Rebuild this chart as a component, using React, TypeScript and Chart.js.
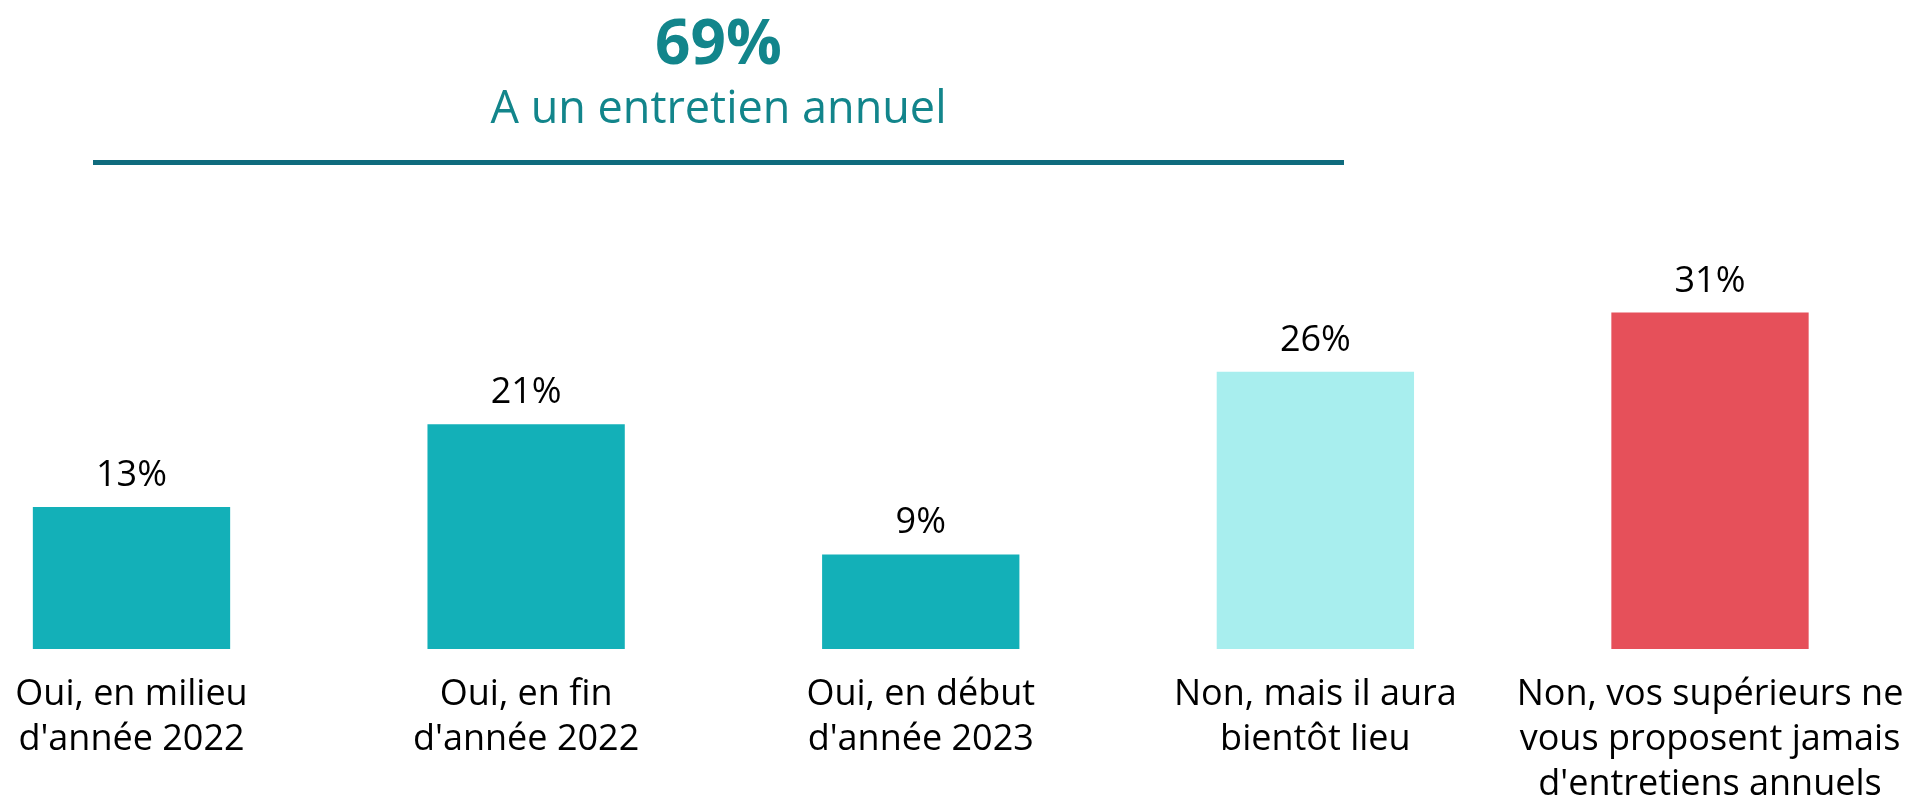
import { useEffect, useRef } from "react";
import { Chart, registerables } from "chart.js";

Chart.register(...registerables);

const categories: string[][] = [
  ["Oui, en milieu", "d'année 2022"],
  ["Oui, en fin", "d'année 2022"],
  ["Oui, en début", "d'année 2023"],
  ["Non, mais il aura", "bientôt lieu"],
  ["Non, vos supérieurs ne", "vous proposent jamais", "d'entretiens annuels"],
];
const values: number[] = [13.2, 20.9, 8.8, 25.8, 31.3];
const valueLabels: string[] = ["13%", "21%", "9%", "26%", "31%"];
const barColors: string[] = ["#13B0B8", "#13B0B8", "#13B0B8", "#A8EEEE", "#E6505A"];
const headline = "69%";
const headlineCaption = "A un entretien annuel";

const FONT = "'Open Sans', 'Noto Sans', sans-serif";

const valueLabelPlugin = {
  id: "valueLabels",
  afterDatasetsDraw(chart: any) {
    const ctx = chart.ctx;
    const meta = chart.getDatasetMeta(0);
    ctx.save();
    ctx.font = `36px ${FONT}`;
    ctx.fillStyle = "#000000";
    ctx.textAlign = "center";
    ctx.textBaseline = "alphabetic";
    meta.data.forEach((bar: any, i: number) => {
      ctx.fillText(valueLabels[i], bar.x, bar.y - 21);
    });
    ctx.restore();
  },
};

const headerPlugin = {
  id: "header",
  afterDraw(chart: any) {
    const ctx = chart.ctx;
    const cx = 718.5;
    ctx.save();
    ctx.textAlign = "center";
    ctx.textBaseline = "alphabetic";
    ctx.fillStyle = "#12858B";
    ctx.font = `bold 62px ${FONT}`;
    ctx.fillText(headline, cx, 64);
    ctx.font = `45px ${FONT}`;
    ctx.fillText(headlineCaption, cx, 123);
    ctx.strokeStyle = "#0F6B7D";
    ctx.lineWidth = 5;
    ctx.beginPath();
    ctx.moveTo(93, 162.5);
    ctx.lineTo(1344, 162.5);
    ctx.stroke();
    ctx.restore();
  },
};

export default function App() {
  const ref = useRef<HTMLCanvasElement | null>(null);

  useEffect(() => {
    if (!ref.current) return;
    const chart = new Chart(ref.current, {
      type: "bar",
      data: {
        labels: categories,
        datasets: [
          {
            data: values,
            backgroundColor: barColors,
            borderWidth: 0,
            categoryPercentage: 0.5,
            barPercentage: 1,
            clip: false as any,
          },
        ],
      },
      options: {
        animation: false,
        responsive: false,
        devicePixelRatio: 1,
        layout: { padding: { top: 219, left: 131.5, right: 211, bottom: 0 } },
        plugins: {
          legend: { display: false },
          tooltip: { enabled: false },
          title: { display: false },
        },
        scales: {
          x: {
            type: "category",
            offset: false,
            grid: { display: false },
            border: { display: false },
            ticks: {
              color: "#000000",
              font: { family: FONT, size: 36, lineHeight: 45 / 36 },
              padding: 15,
              maxRotation: 0,
              minRotation: 0,
              autoSkip: false,
            },
            afterFit: (scale: any) => {
              scale.height = 149;
              scale.paddingLeft = 0;
              scale.paddingRight = 0;
            },
          },
          y: {
            display: false,
            min: 0,
            max: 40,
          },
        },
      },
      plugins: [valueLabelPlugin, headerPlugin],
    });
    return () => chart.destroy();
  }, []);

  return (
    <div style={{ position: "fixed", left: 0, top: 0, width: 1921, height: 798, background: "#ffffff" }}>
      <canvas ref={ref} width={1921} height={798} style={{ display: "block" }} />
    </div>
  );
}
